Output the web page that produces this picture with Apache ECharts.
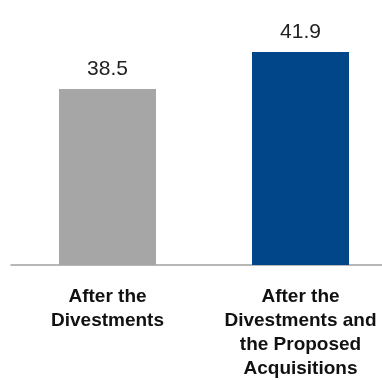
<!DOCTYPE html>
<html>
<head>
<meta charset="utf-8">
<script src="https://cdn.jsdelivr.net/npm/echarts@6/dist/echarts.min.js"></script>
<style>
  html, body { margin: 0; padding: 0; background: #fff; }
  #chart { width: 382px; height: 380px; }
</style>
</head>
<body>
<div id="chart"></div>
<script>
var categories = ['After the\nDivestments', 'After the\nDivestments and\nthe Proposed\nAcquisitions']
var values = [38.5, 41.9]
var barColors = ['#a6a6a6', '#02468a']

var chart = echarts.init(document.getElementById('chart'))

var option = {
  animation: false,
  grid: {
    left: 11,
    width: 386,
    top: 52,
    height: 213,
    containLabel: false,
    outerBoundsMode: 'none'
  },
  xAxis: {
    type: 'category',
    data: categories,
    axisTick: { show: false },
    axisLine: {
      lineStyle: { color: '#a0a0a0', width: 1.5 }
    },
    axisLabel: {
      interval: 0,
      margin: 20,
      color: '#111',
      fontFamily: 'Liberation Sans',
      fontWeight: 'bold',
      fontSize: 19,
      lineHeight: 24
    }
  },
  yAxis: {
    type: 'value',
    min: 22.3,
    max: 41.9,
    show: false
  },
  series: [{
    type: 'bar',
    barWidth: 97,
    data: values.map(function (v, i) {
      return { value: v, itemStyle: { color: barColors[i] } }
    }),
    label: {
      show: true,
      position: 'top',
      distance: 9,
      color: '#222',
      fontFamily: 'Liberation Sans',
      fontSize: 21
    }
  }]
}

chart.setOption(option)
</script>
</body>
</html>
